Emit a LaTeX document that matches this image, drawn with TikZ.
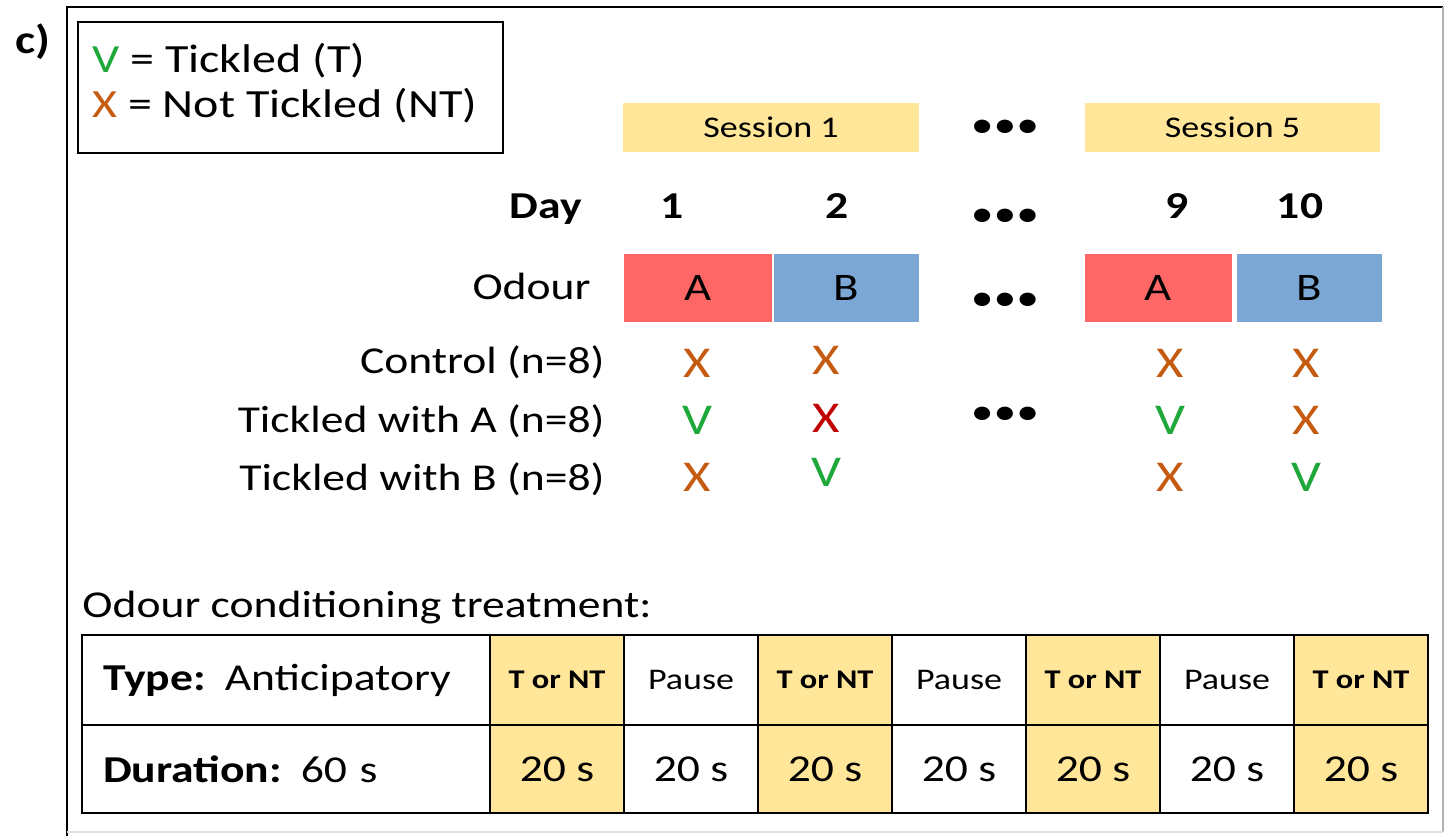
\documentclass[tikz,border=0pt]{standalone}
\usepackage{fontspec}
\setmainfont[FakeStretch=1.2]{Carlito}
\definecolor{sessY}{HTML}{FFE699}
\definecolor{odA}{HTML}{FF6666}
\definecolor{odB}{HTML}{7BA7D4}
\definecolor{xOr}{HTML}{C55A11}
\definecolor{vGr}{HTML}{1EA83A}
\definecolor{xRd}{HTML}{C00000}
\begin{document}
\begin{tikzpicture}[x=0.5pt,y=-0.5pt,
  txt/.style={inner sep=0pt, font=\fontsize{19}{22}\selectfont},
  btxt/.style={inner sep=0pt, font=\fontsize{19}{22}\selectfont\bfseries},
  sess/.style={fill=sessY, inner sep=0pt, minimum width=148pt, minimum height=24.5pt, font=\fontsize{15}{18}\selectfont},
  odbox/.style={inner sep=0pt, minimum height=34pt, font=\fontsize{19.5}{22}\selectfont},
  tmark/.style={inner sep=0pt, font=\fontsize{22}{24}\selectfont},
  dots/.style={inner sep=0pt, font=\fontsize{19}{22}\selectfont},
  cell/.style={draw=black, line width=1pt, inner sep=0pt, minimum width=67pt, minimum height=45pt},
  ycell/.style={cell, fill=sessY},
  tornt/.style={font=\fontsize{13.5}{16}\selectfont\bfseries},
  pausef/.style={font=\fontsize{15}{18}\selectfont},
  secf/.style={font=\fontsize{19}{22}\selectfont}
]
\useasboundingbox (0,0) rectangle (1445,836);
% outer frame
\draw[line width=1pt] (67,836) -- (67,7) -- (1443,7);
\draw[line width=1pt, gray!60] (1443,7) -- (1443,832);
\draw[line width=0.8pt, gray!25] (67,832) -- (1443,832);
\node[btxt, font=\fontsize{20}{22}\selectfont\bfseries] (lab) at (33,42) {c)};
% legend
\draw[line width=1pt] (78,22) rectangle (503,153);
\node[txt, anchor=mid west, font=\fontsize{20}{22}\selectfont] (leg1) at (92,68) {\textcolor{vGr}{V} = Tickled (T)};
\node[txt, anchor=mid west, font=\fontsize{20}{22}\selectfont] (leg2) at (92,113) {\textcolor{xOr}{X} = Not Tickled (NT)};
% sessions
\node[sess] (s1) at (771,127.5) {Session 1};
\node[sess, minimum width=147.5pt] (s5) at (1232.5,127.5) {Session 5};
\node[dots] (d1) at (1005,129) {•••};
% days
\node[btxt, anchor=mid east] (day) at (582,214) {Day};
\node[btxt, anchor=mid] (n1) at (672,214) {1};
\node[btxt, anchor=mid] (n2) at (837,214) {2};
\node[btxt, anchor=mid] (n9) at (1177,214) {9};
\node[btxt, anchor=mid] (n10) at (1300,214) {10};
\node[dots] (d2) at (1005,218) {•••};
% odours
\node[txt, anchor=mid east] (odour) at (591,295) {Odour};
\node[odbox, fill=odA, minimum width=74pt] (a1) at (698,288) {A};
\node[odbox, fill=odB, minimum width=72.5pt] (b1) at (846.5,288) {B};
\node[odbox, fill=odA, minimum width=73.5pt] (a5) at (1158.5,288) {A};
\node[odbox, fill=odB, minimum width=72.5pt] (b5) at (1309.5,288) {B};
\node[dots] (d3) at (1005,302) {•••};
% groups
\node[txt, anchor=mid east] (g1) at (605,369) {Control (n=8)};
\node[txt, anchor=mid east] (g2) at (605,428) {Tickled with A (n=8)};
\node[txt, anchor=mid east] (g3) at (605,486) {Tickled with B (n=8)};
\node[dots] (d4) at (1005,416) {•••};
% marks
\node[tmark, text=xOr] (m11) at (697,363) {X};
\node[tmark, text=xOr] (m12) at (826,360) {X};
\node[tmark, text=xOr] (m13) at (1170,363) {X};
\node[tmark, text=xOr] (m14) at (1306,363) {X};
\node[tmark, text=vGr] (m21) at (697,420) {V};
\node[tmark, text=xRd] (m22) at (826,418) {X};
\node[tmark, text=vGr] (m23) at (1170,420) {V};
\node[tmark, text=xOr] (m24) at (1306,420) {X};
\node[tmark, text=xOr] (m31) at (697,477) {X};
\node[tmark, text=vGr] (m32) at (826,472) {V};
\node[tmark, text=xOr] (m33) at (1170,477) {X};
\node[tmark, text=vGr] (m34) at (1306,477) {V};
% treatment
\node[txt, anchor=mid west] (treat) at (82,613) {Odour conditioning treatment:};
\node[cell, minimum width=204pt, text width=183pt, inner xsep=10.5pt, align=left, secf] (h1) at (286,680) {\textbf{Type:} Anticipatory};
\node[cell, minimum width=204pt, minimum height=44pt, text width=183pt, inner xsep=10.5pt, align=left, secf] (h2) at (286,769) {\textbf{Duration:} 60 s};
\node[ycell, tornt] (c11) at (557,680) {T or NT};
\node[cell, pausef] (c12) at (691,680) {Pause};
\node[ycell, tornt] (c13) at (825,680) {T or NT};
\node[cell, pausef] (c14) at (959,680) {Pause};
\node[ycell, tornt] (c15) at (1093,680) {T or NT};
\node[cell, pausef] (c16) at (1227,680) {Pause};
\node[ycell, tornt] (c17) at (1361,680) {T or NT};
\node[ycell, secf, minimum height=44pt] (c21) at (557,769) {20 s};
\node[cell, secf, minimum height=44pt] (c22) at (691,769) {20 s};
\node[ycell, secf, minimum height=44pt] (c23) at (825,769) {20 s};
\node[cell, secf, minimum height=44pt] (c24) at (959,769) {20 s};
\node[ycell, secf, minimum height=44pt] (c25) at (1093,769) {20 s};
\node[cell, secf, minimum height=44pt] (c26) at (1227,769) {20 s};
\node[ycell, secf, minimum height=44pt] (c27) at (1361,769) {20 s};
\end{tikzpicture}
\end{document}
